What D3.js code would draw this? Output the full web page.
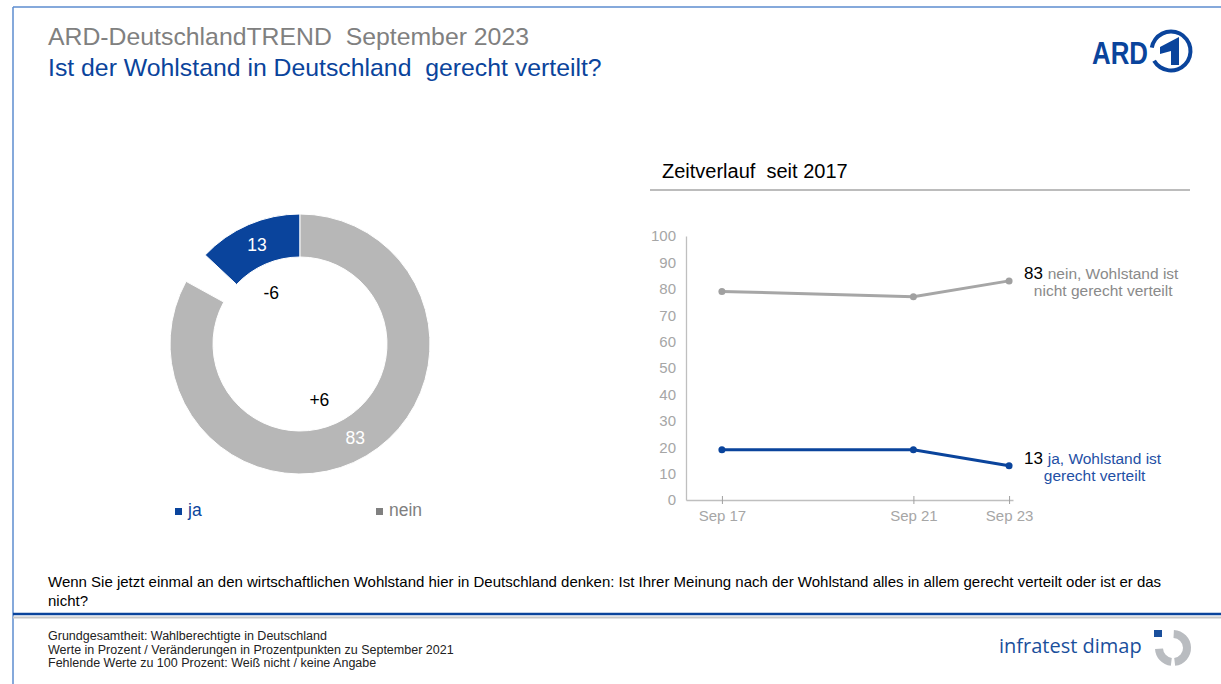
<!DOCTYPE html>
<html>
<head>
<meta charset="utf-8">
<script src="https://cdn.jsdelivr.net/npm/d3@7/dist/d3.min.js"></script>
<style>
  html, body { margin: 0; padding: 0; background: #fff; }
  svg { display: block; font-family: "Liberation Sans", Arial, sans-serif; }
  svg text { white-space: pre; }
</style>
</head>
<body>
<svg id="chart" width="1221" height="684"></svg>
<script>
// ---------- DATA ----------
const pieCategories = ["ja", "nein"];
const pieValues = [13, 83];
const pieChanges = ["-6", "+6"];
const legendLabels = ["ja", "nein"];

const timeLabels = ["Sep 17", "Sep 21", "Sep 23"];
const timeDates = ["2017-09-01", "2021-09-01", "2023-09-01"];
const neinSeries = [79, 77, 83];
const jaSeries = [19, 19, 13];
const yTicks = [0, 10, 20, 30, 40, 50, 60, 70, 80, 90, 100];
const seriesLabelsFirst = ["nein, Wohlstand ist", "ja, Wohlstand ist"];
const seriesLabelsSecond = ["nicht gerecht verteilt", "gerecht verteilt"];

const titleLine1 = "ARD-DeutschlandTREND  September 2023";
const titleLine2 = "Ist der Wohlstand in Deutschland  gerecht verteilt?";
const subTitle = "Zeitverlauf  seit 2017";
const questionLines = [
  "Wenn Sie jetzt einmal an den wirtschaftlichen Wohlstand hier in Deutschland denken: Ist Ihrer Meinung nach der Wohlstand alles in allem gerecht verteilt oder ist er das",
  "nicht?"
];
const footLines = [
  "Grundgesamtheit: Wahlberechtigte in Deutschland",
  "Werte in Prozent / Veränderungen in Prozentpunkten zu September 2021",
  "Fehlende Werte zu 100 Prozent: Weiß nicht / keine Angabe"
];

// ---------- STYLE ----------
const BLUE = "#0a449c";
const GREY = "#b7b7b7";
const LINE_GREY = "#a6a6a6";
const TEXT_GREY = "#8a8a8a";
const FRAME = "#5d8ccf";

const svg = d3.select("#chart");

// frame
svg.append("line").attr("x1", 13).attr("y1", 7).attr("x2", 1221).attr("y2", 7)
  .attr("stroke", FRAME).attr("stroke-width", 1.5);
svg.append("line").attr("x1", 13).attr("y1", 7).attr("x2", 13).attr("y2", 684)
  .attr("stroke", FRAME).attr("stroke-width", 1.5);

// titles
svg.append("text").attr("x", 48).attr("y", 45).attr("font-size", 24.8)
  .attr("fill", "#808080").text(titleLine1);
svg.append("text").attr("x", 48).attr("y", 76).attr("font-size", 24.8)
  .attr("fill", BLUE).text(titleLine2);

// ARD logo
svg.append("text").attr("x", 1092).attr("y", 64).attr("font-size", 31)
  .attr("font-weight", "bold").attr("fill", BLUE)
  .attr("textLength", 56).attr("lengthAdjust", "spacingAndGlyphs")
  .text("ARD");
const ard = svg.append("g").attr("transform", "translate(1171,51)");
ard.append("path")
  .attr("d", d3.arc().innerRadius(17.5).outerRadius(21.5)
    .startAngle(-1.40).endAngle(4.19)())
  .attr("fill", BLUE);
ard.append("path")
  .attr("d", "M-11,-4 L8,-14 L8,14 L0,14 L0,0 L-11,3 Z")
  .attr("fill", BLUE);

// ---------- DONUT ----------
const cx = 300, cy = 344, rOuter = 130, rInner = 87;
const angle = d3.scaleLinear().domain([0, 100]).range([0, 2 * Math.PI]);
const slices = [
  { key: pieCategories[0], value: pieValues[0], start: angle(100) - angle(pieValues[0]), end: angle(100), color: BLUE, change: pieChanges[0], shift: -0.1 },
  { key: pieCategories[1], value: pieValues[1], start: angle(0), end: angle(pieValues[1]), color: GREY, change: pieChanges[1], shift: 0.2 }
];
const arc = d3.arc().innerRadius(rInner).outerRadius(rOuter);
const labelArc = d3.arc().innerRadius(0).outerRadius(118);
const donut = svg.append("g").attr("transform", `translate(${cx},${cy})`);
donut.selectAll("path.slice").data(slices).join("path")
  .attr("class", "slice")
  .attr("d", d => arc({ startAngle: d.start, endAngle: d.end }))
  .attr("fill", d => d.color)
  .attr("stroke", "#fff").attr("stroke-width", 1);
donut.selectAll("text.val").data(slices).join("text")
  .attr("class", "val")
  .attr("transform", d => `translate(${arc.centroid({ startAngle: d.start, endAngle: d.end })})`)
  .attr("text-anchor", "middle").attr("dy", "0.36em")
  .attr("font-size", 17.5).attr("fill", "#fff")
  .text(d => d.value);
donut.selectAll("text.chg").data(slices).join("text")
  .attr("class", "chg")
  .attr("transform", d => `translate(${labelArc.centroid({ startAngle: d.start + d.shift, endAngle: d.end + d.shift })})`)
  .attr("text-anchor", "middle").attr("dy", "0.36em")
  .attr("font-size", 17.5).attr("fill", "#000")
  .text(d => d.change);

// legend
const legendX = d3.scalePoint().domain(legendLabels).range([175, 376]);
const leg = svg.selectAll("g.leg").data(legendLabels).join("g")
  .attr("class", "leg")
  .attr("transform", d => `translate(${legendX(d)},516)`);
leg.append("rect").attr("x", 0).attr("y", -8).attr("width", 7).attr("height", 7)
  .attr("fill", (d, i) => i === 0 ? BLUE : "#808080");
leg.append("text").attr("x", 13).attr("y", 0).attr("font-size", 17.5)
  .attr("fill", (d, i) => i === 0 ? BLUE : "#808080").text(d => d);

// ---------- LINE CHART ----------
svg.append("text").attr("x", 662).attr("y", 178).attr("font-size", 20)
  .attr("fill", "#000").text(subTitle);
svg.append("line").attr("x1", 650).attr("x2", 1190).attr("y1", 190).attr("y2", 190)
  .attr("stroke", LINE_GREY).attr("stroke-width", 1.5);

const parse = d3.timeParse("%Y-%m-%d");
const dates = timeDates.map(parse);
const x = d3.scaleTime()
  .domain([new Date(2016, 11, 1), new Date(2023, 9, 1)])
  .range([686, 1013]);
const y = d3.scaleLinear().domain([0, 100]).range([500, 236]);

// y axis
const yAxis = svg.append("g").attr("transform", "translate(686,0)")
  .call(d3.axisLeft(y).tickValues(yTicks).tickSize(0).tickPadding(10));
yAxis.select(".domain").attr("stroke", "#bfbfbf").attr("stroke-width", 1.3);
yAxis.selectAll("text").attr("font-size", 15).attr("fill", LINE_GREY)
  .attr("font-family", "Liberation Sans, Arial");

// x axis
const xAxis = svg.append("g").attr("transform", "translate(0,500)")
  .call(d3.axisBottom(x).tickValues(dates).tickFormat((d, i) => timeLabels[i])
    .tickSizeInner(4).tickSizeOuter(0).tickPadding(6));
xAxis.select(".domain").attr("stroke", "#bfbfbf").attr("stroke-width", 1.3);
xAxis.selectAll(".tick line").attr("stroke", "#a0a0a0").attr("y1", -4);
xAxis.selectAll("text").attr("font-size", 15).attr("fill", LINE_GREY)
  .attr("font-family", "Liberation Sans, Arial");

const seriesList = [
  { vals: neinSeries, color: LINE_GREY, dot: "#a0a0a0", txt: TEXT_GREY, l1: seriesLabelsFirst[0], l2: seriesLabelsSecond[0] },
  { vals: jaSeries, color: BLUE, dot: BLUE, txt: "#1f50a5", l1: seriesLabelsFirst[1], l2: seriesLabelsSecond[1] }
];
const line = d3.line().x((d, i) => x(dates[i])).y(d => y(d));
seriesList.forEach(s => {
  svg.append("path").datum(s.vals).attr("d", line)
    .attr("fill", "none").attr("stroke", s.color).attr("stroke-width", 3);
  svg.selectAll(null).data(s.vals).join("circle")
    .attr("cx", (d, i) => x(dates[i])).attr("cy", d => y(d)).attr("r", 3.5)
    .attr("fill", s.dot);
  const last = s.vals[s.vals.length - 1];
  const lx = x(dates[dates.length - 1]) + 15;
  const ly = y(last) - 2;
  const t = svg.append("text").attr("x", lx).attr("y", ly);
  t.append("tspan").attr("font-size", 17).attr("fill", "#000").text(last + " ");
  t.append("tspan").attr("font-size", 15.5).attr("fill", s.txt).text(s.l1);
  const w = t.node().getComputedTextLength();
  svg.append("text").attr("x", lx + w / 2 + 2).attr("y", ly + 17)
    .attr("text-anchor", "middle").attr("font-size", 15.5).attr("fill", s.txt).text(s.l2);
});

// ---------- QUESTION + FOOTER ----------
svg.selectAll("text.q").data(questionLines).join("text")
  .attr("class", "q").attr("x", 48).attr("y", (d, i) => 587 + i * 19)
  .attr("font-size", 15).attr("fill", "#000").text(d => d);

svg.append("line").attr("x1", 13).attr("x2", 1221).attr("y1", 614).attr("y2", 614)
  .attr("stroke", "#0a449c").attr("stroke-width", 2.5);
svg.append("line").attr("x1", 13).attr("x2", 1221).attr("y1", 617.5).attr("y2", 617.5)
  .attr("stroke", "#c8c8c8").attr("stroke-width", 2);

svg.selectAll("text.f").data(footLines).join("text")
  .attr("class", "f").attr("x", 48).attr("y", (d, i) => 640 + i * 13.5)
  .attr("font-size", 12.5).attr("fill", "#222").text(d => d);

// infratest dimap logo
svg.append("text").attr("x", 999).attr("y", 653).attr("font-size", 20)
  .attr("font-family", "Open Sans, DejaVu Sans, sans-serif")
  .attr("fill", "#1a4f9c").text("infratest dimap");
svg.append("rect").attr("x", 1154).attr("y", 630).attr("width", 8).attr("height", 7).attr("fill", "#1a4f9c");
const idl = svg.append("g").attr("transform", "translate(1173,648)");
const ringArc = d3.arc().innerRadius(10).outerRadius(18);
idl.append("path").attr("d", ringArc({ startAngle: 0.05, endAngle: Math.PI - 0.12 })).attr("fill", "#b9bcc0");
idl.append("path").attr("d", ringArc({ startAngle: Math.PI + 0.12, endAngle: 1.5 * Math.PI - 0.05 })).attr("fill", "#b9bcc0");
</script>
</body>
</html>
